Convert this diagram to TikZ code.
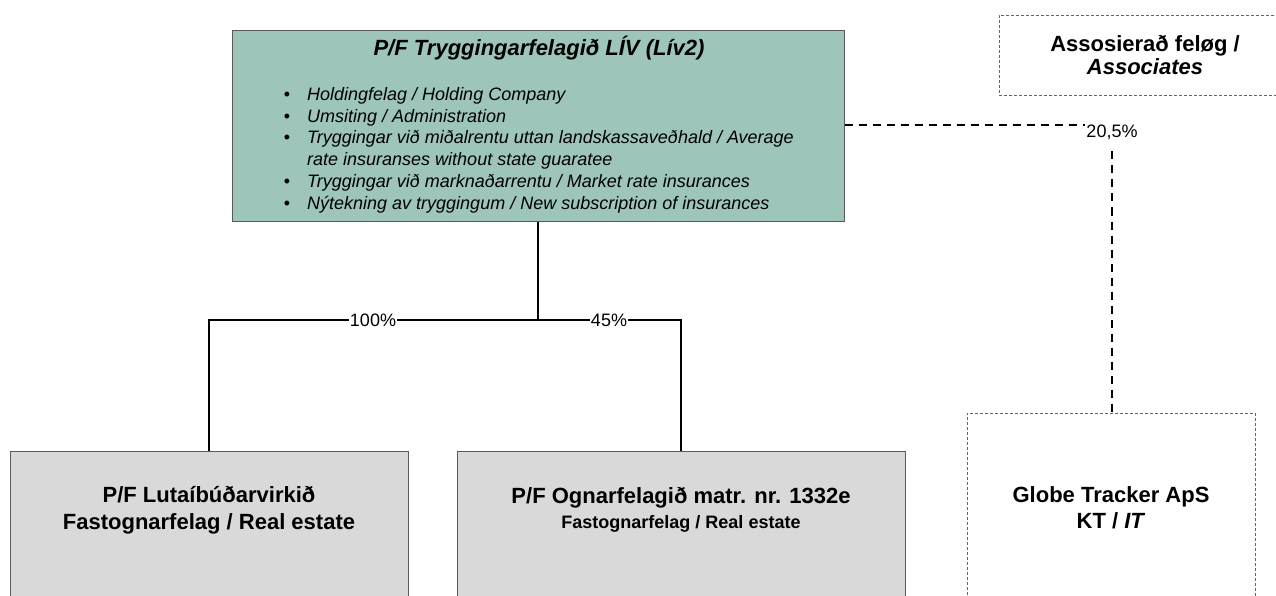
\documentclass[tikz,border=0pt]{standalone}
\usepackage{fontspec}
\setmainfont{Liberation Sans}
\definecolor{tealfill}{RGB}{157,197,186}
\definecolor{grayfill}{RGB}{217,217,217}
\definecolor{boxline}{RGB}{90,90,90}
\definecolor{dashline}{RGB}{100,100,100}
\tikzset{
  topbox/.style={draw=boxline, fill=tealfill, line width=1pt, inner sep=0pt},
  subbox/.style={draw=boxline, fill=grayfill, line width=1pt, inner sep=0pt},
  assocbox/.style={draw=dashline, line width=0.9pt, dash pattern=on 3pt off 2pt, inner sep=0pt},
  conn/.style={draw=black, line width=1.1pt},
  dconn/.style={draw=black, line width=1.1pt, dash pattern=on 8pt off 6pt},
  head/.style={font=\fontsize{22}{26}\selectfont\bfseries, inner sep=0pt, anchor=base},
  bul/.style={font=\fontsize{18}{21}\selectfont\itshape, inner sep=0pt, anchor=base west},
  dot/.style={font=\fontsize{18}{21}\selectfont, inner sep=0pt, anchor=base},
  pct/.style={font=\fontsize{18}{21}\selectfont, fill=white, inner xsep=1pt, inner ysep=3pt},
}
\begin{document}
\begin{tikzpicture}[x=1pt,y=-1pt]
\useasboundingbox (0,0) rectangle (1276,596);
\clip (0,0) rectangle (1276,596);
% boxes
\node[topbox, minimum width=612pt, minimum height=190pt] (liv) at (538,126) {};
\node[subbox, minimum width=398pt, minimum height=200pt] (lut) at (209,551) {};
\node[subbox, minimum width=448pt, minimum height=200pt] (ogn) at (681,551) {};
\node[assocbox, minimum width=288pt, minimum height=200pt] (glo) at (1111,513) {};
\node[assocbox, minimum width=300pt, minimum height=80pt] (aso) at (1149,55) {};
% top box text
\node[head, font=\fontsize{22}{26}\selectfont\bfseries\itshape] (livt) at (539,56) {P/F Tryggingarfelagið LÍV (Lív2)};
\foreach \y/\t [count=\i] in {101/{Holdingfelag / Holding Company},
  122.5/{Umsiting / Administration},
  144/{Tryggingar við miðalrentu uttan landskassaveðhald / Average},
  188/{Tryggingar við marknaðarrentu / Market rate insurances},
  209.5/{Nýtekning av tryggingum / New subscription of insurances}}{
  \node[dot] (d\i) at (287,\y) {\textbullet};
  \node[bul] (b\i) at (307,\y) {\t};
}
\node[bul] (b3b) at (307,166) {rate insuranses without state guaratee};
% sub box texts
\node[head] (lut1) at (209,502) {P/F Lutaíbúðarvirkið};
\node[head] (lut2) at (209,529) {Fastognarfelag / Real estate};
\node[head] (ogn1) at (681,503) {P/F Ognarfelagið matr. nr. 1332e};
\node[head, font=\fontsize{18}{21}\selectfont\bfseries] (ogn2) at (681,528) {Fastognarfelag / Real estate};
\node[head] (glo1) at (1111,502) {Globe Tracker ApS};
\node[head] (glo2) at (1111,528) {KT / \textit{IT}};
\node[head] (aso1) at (1145,52) {Assosierað feløg /};
\node[head, font=\fontsize{22}{26}\selectfont\bfseries\itshape] (aso2) at (1145,75) {Associates};
% connectors
\coordinate (j) at (538,320);
\draw[conn] (liv.south) -- (j);
\draw[conn] (j) -| (lut.north);
\draw[conn] (j) -| (ogn.north);
\node[pct] (p100) at (373,320) {100\%};
\node[pct] (p45) at (609,320) {45\%};
\coordinate (c) at (1112,125);
\draw[dconn] (liv.east |- c) -- (c) -- (glo.north -| c);
\node[pct, anchor=base, inner ysep=6pt] (p205) at (1112,138) {20,5\%};
\end{tikzpicture}
\end{document}
